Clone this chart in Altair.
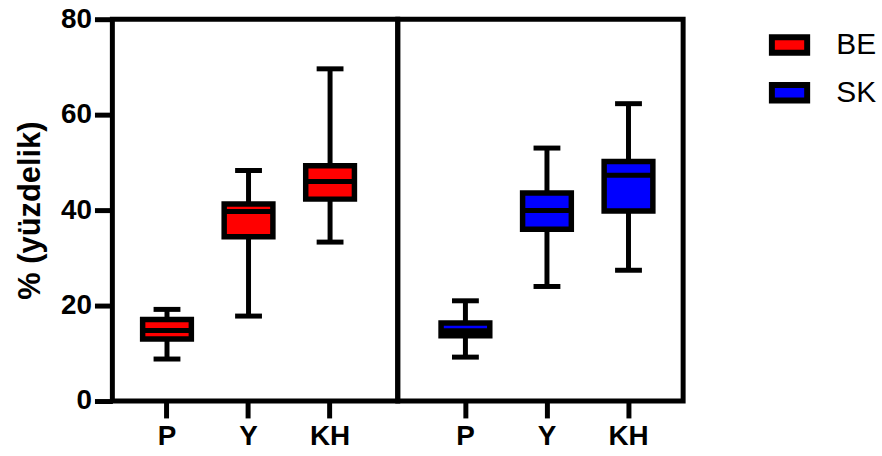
import altair as alt
import pandas as pd

groups = ["BE", "SK"]
cats = ["P", "Y", "KH"]
colors = ["#ff0000", "#0000ff"]

# five-number summaries per group, in category order P, Y, KH
be_min = [8.8, 17.8, 33.3]
be_q1 = [13.0, 34.4, 42.3]
be_med = [14.8, 39.7, 46.0]
be_q3 = [17.1, 41.3, 49.3]
be_max = [19.2, 48.3, 69.6]

sk_min = [9.2, 24.0, 27.4]
sk_q1 = [13.7, 36.0, 39.8]
sk_med = [14.75, 39.9, 47.3]
sk_q3 = [16.35, 43.6, 50.2]
sk_max = [21.0, 53.0, 62.3]

rows = []
for g, mn, q1, md, q3, mx in [
    ("BE", be_min, be_q1, be_med, be_q3, be_max),
    ("SK", sk_min, sk_q1, sk_med, sk_q3, sk_max),
]:
    for i, c in enumerate(cats):
        rows.append(dict(group=g, cat=c, vmin=mn[i], q1=q1[i], med=md[i], q3=q3[i], vmax=mx[i]))
df = pd.DataFrame(rows)

FONT = "Liberation Sans"
y_scale = alt.Scale(domain=[0, 80], nice=False)
fill_scale = alt.Scale(domain=groups, range=colors)
legend = alt.Legend(
    title=None, orient="none", legendX=660, legendY=5,
    labelFontSize=30, labelFont=FONT, labelColor="black",
    symbolType="M-1,-0.44H1V0.44H-1Z", symbolSize=1260,
    symbolStrokeColor="black", symbolStrokeWidth=6, symbolOpacity=1,
    labelOffset=26, rowPadding=7,
)


def panel(g, align, show_y):
    x_enc = alt.X(
        "cat:N",
        sort=cats,
        scale=alt.Scale(paddingInner=0, paddingOuter=0.25, align=align),
        axis=alt.Axis(
            title=None, labelAngle=0, labelFontSize=28, labelFont=FONT, labelFontWeight="bold",
            labelColor="black", tickSize=17, tickWidth=5, tickColor="black",
            domain=False, labelPadding=5,
        ),
    )
    if show_y:
        y_axis = alt.Axis(
            values=[0, 20, 40, 60, 80], title="% (yüzdelik)", titleFontSize=31, titleFont=FONT,
            titleFontWeight="bold", titleColor="black", labelFontSize=28, labelFont=FONT,
            labelFontWeight="bold", labelColor="black", tickSize=18, tickWidth=5, tickColor="black",
            domain=False, labelPadding=3, titlePadding=14, grid=False,
        )
    else:
        y_axis = None
    base = alt.Chart().encode(x=x_enc)
    whisker = base.mark_rule(color="black", strokeWidth=5).encode(
        y=alt.Y("vmin:Q", scale=y_scale, axis=y_axis), y2="vmax:Q"
    )
    cap_lo = base.mark_tick(color="black", size=27, thickness=5, opacity=1).encode(
        y=alt.Y("vmin:Q", scale=y_scale)
    )
    cap_hi = base.mark_tick(color="black", size=27, thickness=5, opacity=1).encode(
        y=alt.Y("vmax:Q", scale=y_scale)
    )
    box = base.mark_bar(stroke="black", strokeWidth=5.5, size=49, opacity=1).encode(
        y=alt.Y("q1:Q", scale=y_scale),
        y2="q3:Q",
        fill=alt.Fill("group:N", scale=fill_scale, legend=legend),
    )
    median = base.mark_tick(color="black", size=49, thickness=5, opacity=1).encode(
        y=alt.Y("med:Q", scale=y_scale)
    )
    return alt.layer(
        whisker, cap_lo, cap_hi, box, median, data=df[df["group"] == g]
    ).properties(width=287, height=384)


chart = alt.hconcat(
    panel("BE", 0.34, True),
    panel("SK", 0.66, False),
    spacing=0,
    bounds="flush",
).properties(
    padding={"left": 12, "top": 1, "right": 5, "bottom": 5},
).configure(
    background="white",
    style={"cell": {"stroke": "black", "strokeWidth": 5}},
).configure_view(
    stroke="black", strokeWidth=5
)

chart.save("out.html", embed_options={"renderer": "svg", "actions": False})
